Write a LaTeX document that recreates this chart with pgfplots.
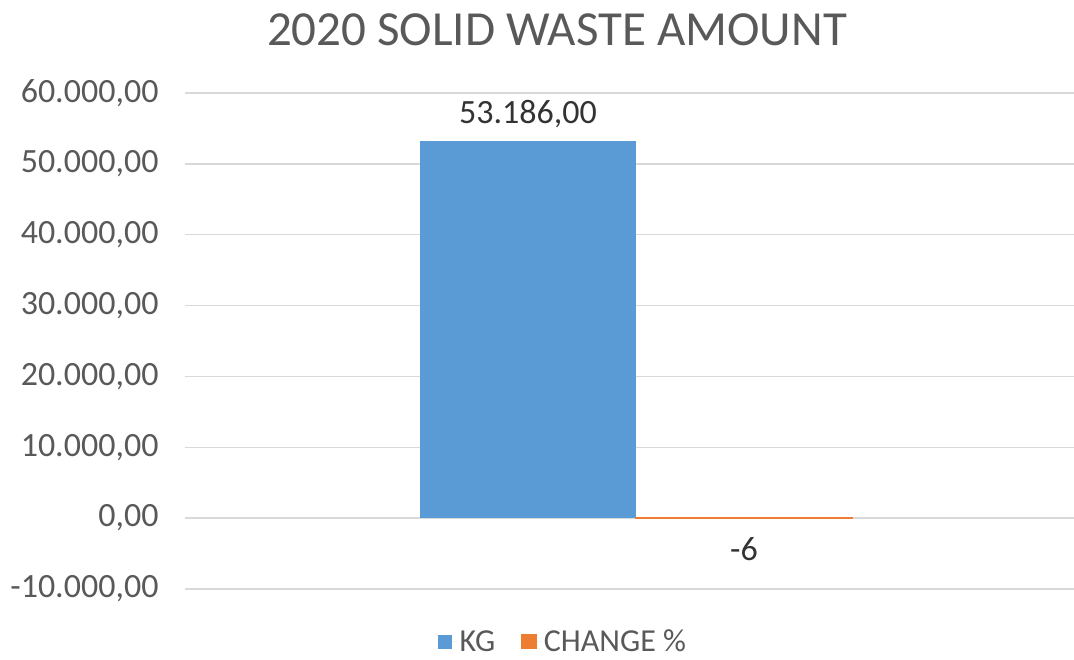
\documentclass[border=0pt]{standalone}
\usepackage{fontspec}
\setmainfont{Carlito}
\usepackage{pgfplots}
\pgfplotsset{compat=1.18}
\definecolor{kgblue}{HTML}{5B9BD5}
\definecolor{chgorange}{HTML}{ED7D31}
\definecolor{gridgray}{HTML}{D9D9D9}
\definecolor{txtgray}{HTML}{595959}

\begin{document}
\begin{tikzpicture}[x=1pt,y=1pt]
\path[use as bounding box] (0,0) rectangle (1074,660);
\node[anchor=base,font=\fontsize{49}{56}\selectfont,text=txtgray] at (557,614) {2020 SOLID WASTE AMOUNT};
\begin{axis}[
  at={(185pt,71pt)},anchor=south west,
  scale only axis,width=889pt,height=496pt,
  xmin=-0.835,xmax=0.811,
  ymin=-10000,ymax=60000,
  ytick distance=10000,
  scaled y ticks=false,
  xtick=\empty,
  ymajorgrids=true,grid style={gridgray,line width=1.5pt},
  axis line style={draw=none},
  major tick length=0pt,
  /pgf/number format/.cd,fixed,fixed zerofill,precision=2,use comma,1000 sep={.},assume math mode=true,
  /pgfplots/.cd,
  yticklabel style={font=\fontsize{34}{40}\selectfont,text=txtgray,xshift=-23pt},
  point meta=explicit symbolic,
  nodes near coords,
  nodes near coords style={font=\fontsize{34}{40}\selectfont,text=black!80},
  legend columns=2,
  legend style={draw=none,fill=none,at={(0.425,-0.106)},anchor=center,
    font=\fontsize{32}{34}\selectfont,text=txtgray,inner sep=0pt,
    /tikz/every even column/.append style={column sep=24pt}},
  legend image code/.code={\fill[#1] (0pt,-7pt) rectangle (14pt,7pt);\path[draw=none] (0pt,0pt) -- (20pt,0pt);},
]
\addplot[ybar,bar width=0.4,bar shift=0pt,fill=kgblue,draw=none,
  every node near coord/.append style={anchor=south,yshift=10pt}] coordinates {(-0.2,53186) [53.186,00]};
\addlegendentry{KG}
\addplot[ybar,bar width=0.4,bar shift=0pt,fill=chgorange,draw=chgorange,line width=1.5pt,
  every node near coord/.append style={anchor=north,yshift=-15pt}] coordinates {(0.2,-6) [-6]};
\addlegendentry{CHANGE \%}
\end{axis}
\end{tikzpicture}
\end{document}
